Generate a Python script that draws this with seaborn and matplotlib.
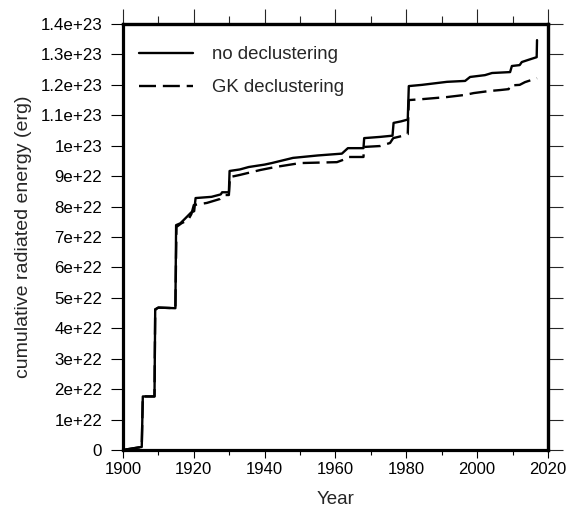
import numpy as np
import pandas as pd
import matplotlib
matplotlib.use("Agg")
import matplotlib.pyplot as plt
import seaborn as sns

# Cumulative radiated energy, in units of 1e22 erg
no_decl_year = [1900.0, 1905.3, 1905.6, 1908.9, 1909.1, 1910.0, 1914.8, 1915.0,
                1916.2, 1917.5, 1919.2, 1920.1, 1920.5, 1925.0, 1927.6, 1928.0,
                1929.9, 1930.1, 1933.0, 1935.5, 1940.0, 1942.0, 1948.0, 1955.0,
                1961.8, 1963.5, 1967.9, 1968.1, 1972.6, 1976.1, 1976.4, 1978.5,
                1980.4, 1980.7, 1984.4, 1991.5, 1996.6, 1998.0, 2002.2, 2004.2,
                2009.3, 2009.8, 2012.0, 2012.6, 2014.4, 2016.8, 2016.9]
no_decl_val = [0.0, 0.1, 1.76, 1.76, 4.62, 4.68, 4.66, 7.39,
               7.45, 7.6, 7.8, 7.85, 8.28, 8.32, 8.40, 8.47,
               8.47, 9.17, 9.22, 9.3, 9.38, 9.43, 9.6, 9.68,
               9.74, 9.92, 9.92, 10.25, 10.29, 10.33, 10.75, 10.8,
               10.86, 11.96, 12.0, 12.1, 12.13, 12.26, 12.32, 12.39,
               12.42, 12.62, 12.65, 12.75, 12.82, 12.91, 13.47]

gk_year = [1900.0, 1905.3, 1905.6, 1908.9, 1909.1, 1910.0, 1914.8, 1915.1,
           1916.5, 1918.4, 1919.3, 1920.0, 1923.7, 1927.4, 1928.8, 1929.9,
           1930.2, 1933.0, 1938.7, 1943.0, 1950.0, 1960.4, 1962.5, 1963.5,
           1967.9, 1968.1, 1972.6, 1975.4, 1976.3, 1978.8, 1980.4, 1980.7,
           1984.4, 1991.5, 1996.6, 1999.0, 2003.6, 2006.5, 2008.9, 2009.2,
           2012.0, 2013.5, 2016.9]
gk_val = [0.0, 0.1, 1.76, 1.76, 4.62, 4.68, 4.66, 7.33,
          7.45, 7.56, 7.75, 8.05, 8.12, 8.25, 8.38, 8.38,
          8.97, 9.04, 9.2, 9.3, 9.43, 9.46, 9.55, 9.63,
          9.63, 9.96, 9.99, 10.09, 10.25, 10.32, 10.38, 11.5,
          11.53, 11.6, 11.67, 11.73, 11.8, 11.83, 11.86, 11.98,
          12.0, 12.09, 12.22]

series_names = ["no declustering", "GK declustering"]

y_tick_values = [0, 1e22, 2e22, 3e22, 4e22, 5e22, 6e22, 7e22, 8e22,
                 9e22, 1e23, 1.1e23, 1.2e23, 1.3e23, 1.4e23]
y_tick_labels = ["0", "1e+22", "2e+22", "3e+22", "4e+22", "5e+22", "6e+22",
                 "7e+22", "8e+22", "9e+22", "1e+23", "1.1e+23", "1.2e+23",
                 "1.3e+23", "1.4e+23"]
x_major = [1900, 1920, 1940, 1960, 1980, 2000, 2020]
x_minor = [1910, 1930, 1950, 1970, 1990, 2010]

df = pd.concat([
    pd.DataFrame({"Year": no_decl_year,
                  "energy": np.array(no_decl_val) * 1e22,
                  "series": series_names[0]}),
    pd.DataFrame({"Year": gk_year,
                  "energy": np.array(gk_val) * 1e22,
                  "series": series_names[1]}),
], ignore_index=True)

sns.set_style("ticks")
plt.rcParams["font.family"] = ["Liberation Sans", "DejaVu Sans"]

fig = plt.figure(figsize=(5.68, 5.11), dpi=100)
ax = fig.add_axes([0.2165, 0.1194, 0.7483, 0.8336])

sns.lineplot(data=df, x="Year", y="energy", style="series",
             style_order=series_names,
             dashes={series_names[0]: "", series_names[1]: (7.2, 2.9)},
             color="black", linewidth=1.7, estimator=None, sort=False,
             ax=ax)

ax.set_xlim(1900, 2020)
ax.set_ylim(0, 1.4e23)
ax.set_xticks(x_major)
ax.set_xticks(x_minor, minor=True)
ax.set_yticks(y_tick_values)
ax.set_yticklabels(y_tick_labels)
ax.tick_params(axis="x", which="major", length=5.8, width=0.8, pad=3,
               labelsize=12, direction="out", colors="black")
ax.tick_params(axis="x", which="minor", length=3.6, width=0.8,
               direction="out", colors="black")
ax.tick_params(axis="y", which="major", length=9.0, width=0.8, pad=6,
               labelsize=12.2, direction="out", colors="black")
for sp in ax.spines.values():
    sp.set_visible(True)
    sp.set_linewidth(2.3)
    sp.set_color("black")

# top and right tick marks (longer, no labels)
top = ax.secondary_xaxis("top")
top.set_xticks(x_major)
top.set_xticks(x_minor, minor=True)
top.tick_params(axis="x", which="major", length=10.8, width=0.8,
                labeltop=False, direction="out")
top.tick_params(axis="x", which="minor", length=5.8, width=0.8,
                direction="out")
top.spines["top"].set_linewidth(2.3)

right = ax.secondary_yaxis("right")
right.set_yticks(y_tick_values)
right.tick_params(axis="y", which="major", length=10.8, width=0.8,
                  labelright=False, direction="out")
right.spines["right"].set_linewidth(2.3)

ax.set_xlabel("Year", fontsize=13.5, labelpad=10)
ax.set_ylabel("cumulative radiated energy (erg)", fontsize=14, labelpad=6)

leg = ax.legend(loc="upper left", bbox_to_anchor=(0.02, 0.965), frameon=False,
                fontsize=13.4, handlelength=2.9, handletextpad=1.05,
                labelspacing=0.85, borderaxespad=0)
for line in leg.get_lines():
    line.set_linewidth(1.7)

fig.savefig("out.png", dpi=100)
